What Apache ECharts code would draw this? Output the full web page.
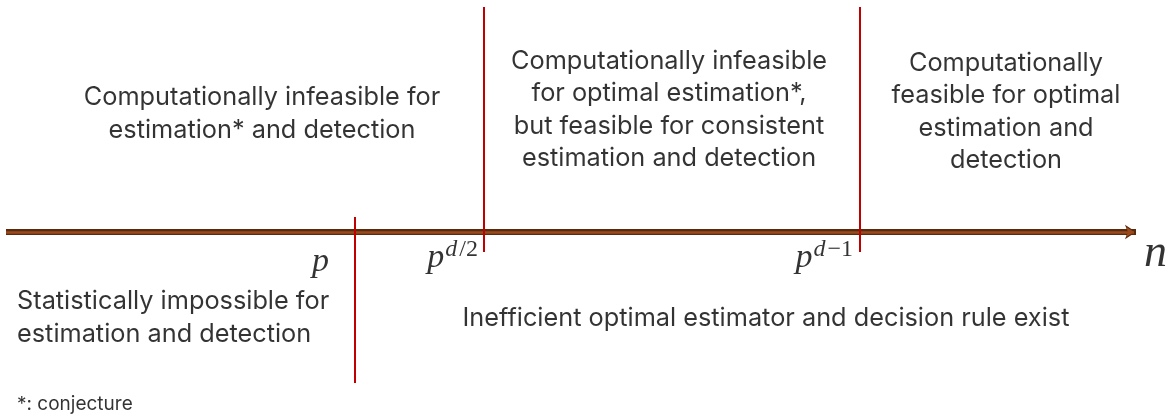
<!DOCTYPE html>
<html>
<head>
<meta charset="utf-8">
<script src="https://cdn.jsdelivr.net/npm/echarts@6/dist/echarts.min.js"></script>
<style>
  html, body { margin: 0; padding: 0; background: #fff; }
  #main { width: 1169px; height: 416px; }
</style>
</head>
<body>
<div id="main"></div>
<script>
// n axis (schematic units across the page) and thresholds on it
var axisStart = 6;
var axisEnd = 1136;
var axisY = 232;

var thresholdNames = ['p', 'p^{d/2}', 'p^{d-1}'];
var thresholdX = [355, 484, 860];
var thresholdTop = [217, 7, 7];
var thresholdBottom = [383, 252, 252];

// region descriptions: [x, y, text]
var regionX = [262, 669, 1006, 17, 766];
var regionY = [114, 110, 112, 318, 318];
var regionText = [
    'Computationally infeasible for\nestimation* and detection',
    'Computationally infeasible\nfor optimal estimation*,\nbut feasible for consistent\nestimation and detection',
    'Computationally\nfeasible for optimal\nestimation and\ndetection',
    'Statistically impossible for\nestimation and detection',
    'Inefficient optimal estimator and decision rule exist'
];
var regionAlign = ['center', 'center', 'center', 'left', 'center'];

// tick label positions (math labels)
var labelX = [329, 478, 853, 1167];
var labelY = [262, 258, 258, 254];

var footnote = '*: conjecture';

var myChart = echarts.init(document.getElementById('main'));

var textFont = 'Inter, "Noto Sans", sans-serif';
var mathFont = '"Liberation Serif", "DejaVu Serif", serif';

// vertical threshold lines
var vLines = [];
for (var i = 0; i < thresholdX.length; i++) {
    vLines.push([
        { coord: [thresholdX[i], thresholdTop[i]] },
        { coord: [thresholdX[i], thresholdBottom[i]] }
    ]);
}

// region labels
var regionData = [];
for (var i = 0; i < regionText.length; i++) {
    regionData.push({
        value: [regionX[i], regionY[i]],
        label: { align: regionAlign[i], formatter: regionText[i] }
    });
}

// math labels
var mathRich = {
    b: { fontFamily: mathFont, fontStyle: 'italic', fontSize: 34, color: '#000' },
    si: { fontFamily: mathFont, fontStyle: 'italic', fontSize: 24, color: '#000', padding: [0, 2, 17, 1] },
    s: { fontFamily: mathFont, fontSize: 24, color: '#000', padding: [0, 0, 17, 0] },
    n: { fontFamily: mathFont, fontStyle: 'italic', fontSize: 46, color: '#000' }
};
var mathFormat = [
    '{b|p}',
    '{b|p}{si|d}{s|/2}',
    '{b|p}{si|d}{s|\u22121}',
    '{n|n}'
];
var mathData = [];
for (var i = 0; i < labelX.length; i++) {
    mathData.push({
        value: [labelX[i], labelY[i]],
        label: { formatter: mathFormat[i], align: 'right' }
    });
}

var Option = {
    animation: false,
    backgroundColor: '#fff',
    grid: { left: 0, right: 0, top: 0, bottom: 0 },
    xAxis: { type: 'value', min: 0, max: 1169, show: false },
    yAxis: { type: 'value', min: 0, max: 416, inverse: true, show: false },
    series: [{
        // arrow outline
        type: 'line',
        data: [],
        silent: true,
        markLine: {
            silent: true,
            symbol: ['none', 'arrow'],
            symbolSize: [11, 11],
            label: { show: false },
            lineStyle: { color: '#5a2a0f', width: 6, type: 'solid' },
            data: [[{ coord: [axisStart, axisY] }, { coord: [axisEnd, axisY] }]]
        },
        z: 1
    }, {
        // arrow inner
        type: 'line',
        data: [],
        silent: true,
        markLine: {
            silent: true,
            symbol: ['none', 'arrow'],
            symbolSize: [8, 8],
            label: { show: false },
            lineStyle: { color: '#9a4a1c', width: 2.5, type: 'solid' },
            data: [[{ coord: [axisStart, axisY] }, { coord: [axisEnd - 2, axisY] }]]
        },
        z: 2
    }, {
        type: 'line',
        data: [],
        silent: true,
        markLine: {
            silent: true,
            symbol: ['none', 'none'],
            label: { show: false },
            lineStyle: { color: '#c00000', width: 2, type: 'solid' },
            data: vLines
        },
        z: 3
    }, {
        type: 'scatter',
        symbolSize: 0,
        silent: true,
        data: regionData,
        label: {
            show: true,
            position: 'inside',
            verticalAlign: 'middle',
            fontFamily: textFont,
            fontSize: 25.3,
            lineHeight: 32.5,
            color: '#000'
        }
    }, {
        type: 'scatter',
        symbolSize: 0,
        silent: true,
        data: mathData,
        label: {
            show: true,
            position: 'inside',
            verticalAlign: 'middle',
            rich: mathRich
        }
    }, {
        type: 'scatter',
        symbolSize: 0,
        silent: true,
        data: [{ value: [17, 404], label: { formatter: footnote } }],
        label: {
            show: true,
            position: 'inside',
            align: 'left',
            verticalAlign: 'middle',
            fontFamily: textFont,
            fontSize: 19,
            color: '#000'
        }
    }]
};

myChart.setOption(Option);
</script>
</body>
</html>
